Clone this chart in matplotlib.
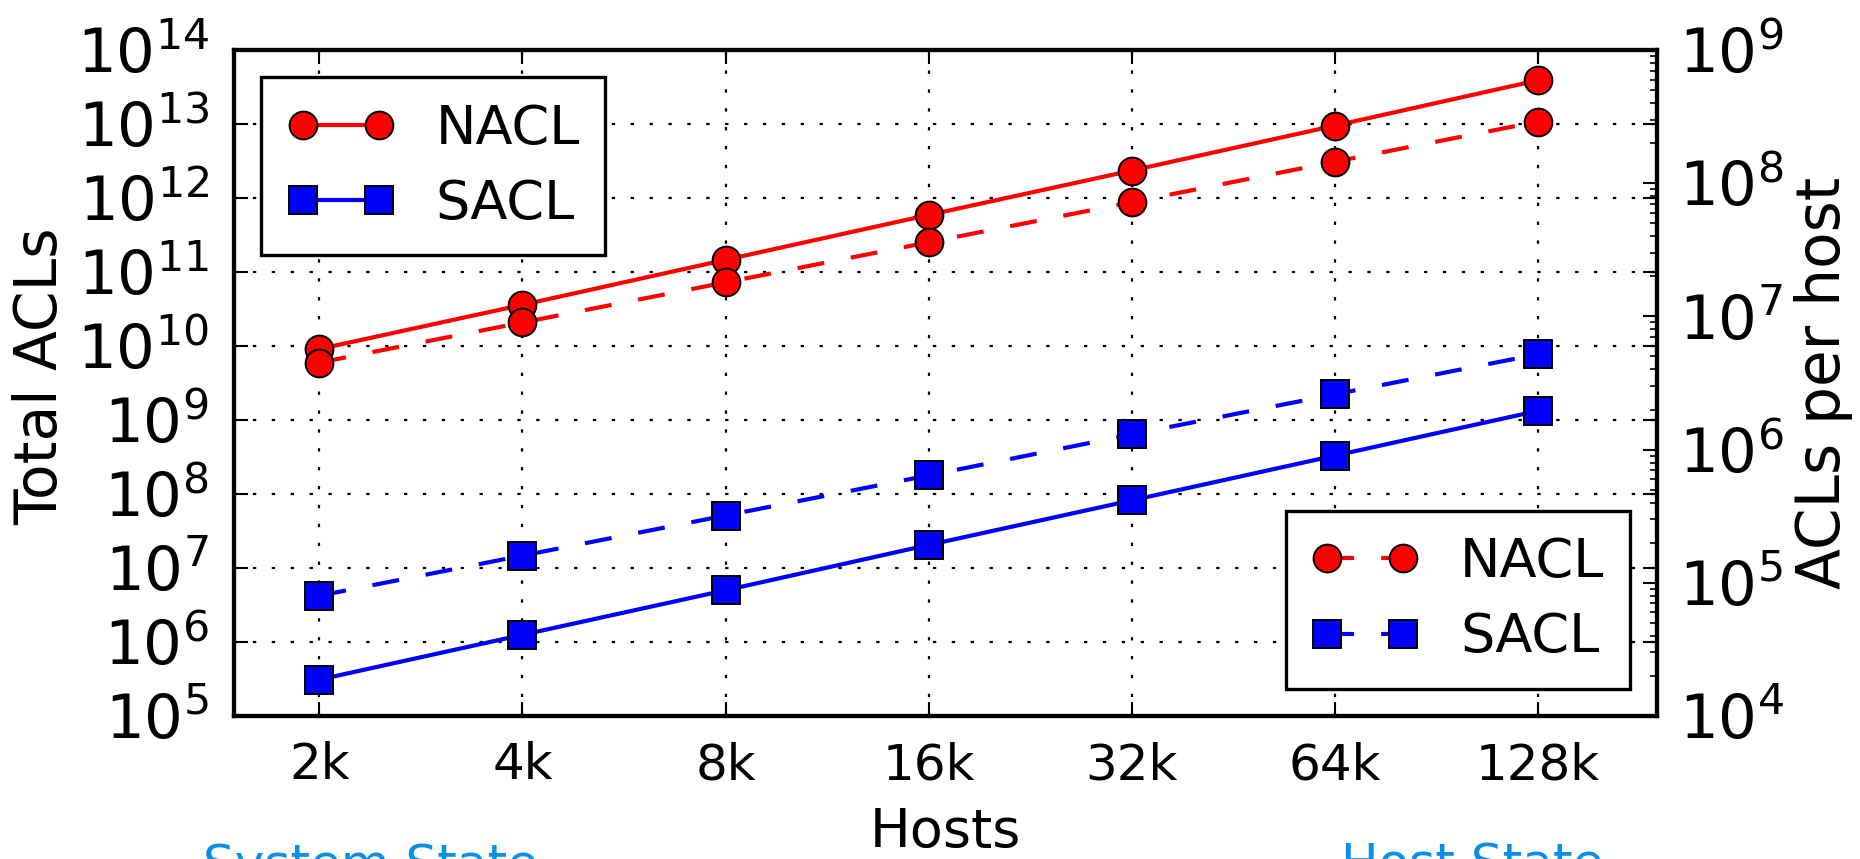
import matplotlib
matplotlib.use('Agg')
import matplotlib.pyplot as plt

# Dados
hosts = ['2k', '4k', '8k', '16k', '32k', '64k', '128k']
nacl_total = [9.1e9, 3.6e10, 1.46e11, 5.9e11, 2.35e12, 9.5e12, 3.9e13]
sacl_total = [3.1e5, 1.25e6, 5.0e6, 2.05e7, 8.2e7, 3.3e8, 1.33e9]
nacl_host = [4.5e6, 9.0e6, 1.8e7, 3.6e7, 7.2e7, 1.45e8, 2.9e8]
sacl_host = [8.0e4, 1.6e5, 3.2e5, 6.4e5, 1.3e6, 2.6e6, 5.2e6]

plt.rcParams['font.family'] = ['DejaVu Sans']
plt.rcParams['mathtext.fontset'] = 'dejavusans'

fig = plt.figure(figsize=(18.6, 8.59), dpi=100)
ax = fig.add_axes([234 / 1860, 1 - 716 / 859, 1423 / 1860, 666 / 859])
ax2 = ax.twinx()

x = list(range(len(hosts)))
estilo = dict(lw=3, ms=20, mew=1.4, mec='k')

l1, = ax.plot(x, nacl_total, '-o', color='red', mfc='red', **estilo)
l2, = ax.plot(x, sacl_total, '-s', color='blue', mfc='blue', **estilo)
l3, = ax2.plot(x, nacl_host, '--o', color='red', mfc='red', dashes=(6.5, 6.5), **estilo)
l4, = ax2.plot(x, sacl_host, '--s', color='blue', mfc='blue', dashes=(6.5, 6.5), **estilo)

ax.set_yscale('log')
ax2.set_yscale('log')
ax.set_ylim(1e5, 1e14)
ax2.set_ylim(1e4, 1e9)
ax.set_xlim(-0.42, 6.586)
ax.set_xticks(x)
ax.set_xticklabels(hosts)
ax.set_yticks([10.0 ** e for e in range(5, 15)])
ax2.set_yticks([10.0 ** e for e in range(4, 10)])

ax.grid(True, which='major', color='k', ls=(0, (1.5, 7.0)), lw=1.6)

for a in (ax, ax2):
    for s in a.spines.values():
        s.set_linewidth(3)
    a.tick_params(which='major', direction='in', length=10, width=1.5, labelsize=44)
    a.tick_params(which='minor', direction='in', length=5, width=1.2)
ax.tick_params(axis='x', top=True, labelsize=36, pad=18)
ax.tick_params(axis='y', which='both', left=True, right=True, pad=18)
ax2.tick_params(axis='y', which='both', pad=16)

ax.set_xlabel('Hosts', fontsize=39)
ax.xaxis.set_label_coords(0.5, -0.135)
ax.set_ylabel('Total ACLs', fontsize=42)
ax.yaxis.set_label_coords(-0.116, 0.51)
ax2.set_ylabel('ACLs per host', fontsize=43)
ax2.yaxis.set_label_coords(1.096, 0.5)

leg_opts = dict(fontsize=39, numpoints=2, handlelength=2.0, handletextpad=0.75,
                borderpad=0.47, labelspacing=0.43, borderaxespad=0.5,
                fancybox=False, framealpha=1, edgecolor='k')
leg1 = ax2.legend([l1, l2], ['NACL', 'SACL'], loc='upper left', **leg_opts)
leg1.get_frame().set_linewidth(2.4)
ax2.add_artist(leg1)
leg2 = ax2.legend([l3, l4], ['NACL', 'SACL'], loc='lower right', **leg_opts)
leg2.get_frame().set_linewidth(2.4)

fig.text(203 / 1860, (859 - 879.5) / 859, 'System State', color='#0A8FE6',
         fontsize=36, va='baseline')
fig.text(1341 / 1860, (859 - 879.5) / 859, 'Host State', color='#0A8FE6',
         fontsize=36, va='baseline')

fig.savefig('out.png', dpi=100)
